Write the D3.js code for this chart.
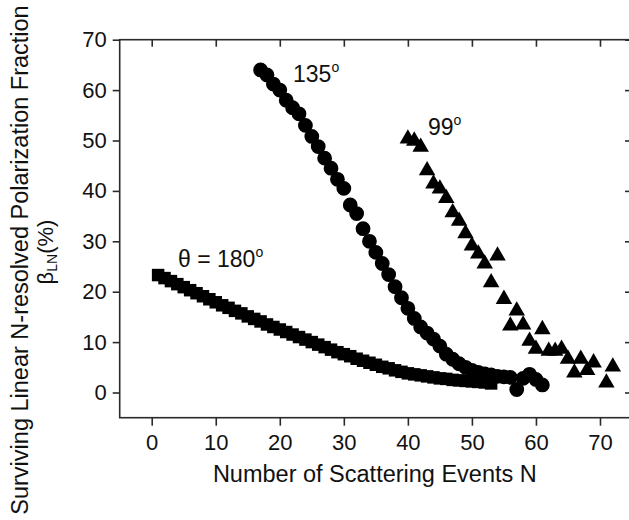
<!DOCTYPE html>
<html>
<head>
<meta charset="utf-8">
<script src="https://cdn.jsdelivr.net/npm/d3@7"></script>
<style>
  html, body { margin: 0; padding: 0; background: #fff; }
  svg { display: block; font-family: "Liberation Sans", Arial, Helvetica, sans-serif; }
</style>
</head>
<body>
<svg id="chart" width="629" height="520"></svg>
<script>
// ---- Data ----
const xTicks = [0, 10, 20, 30, 40, 50, 60, 70];
const yTicks = [0, 10, 20, 30, 40, 50, 60, 70];

// theta = 180 deg (squares)
const n180 = [1,2,3,4,5,6,7,8,9,10,11,12,13,14,15,16,17,18,19,20,21,22,23,24,25,26,27,28,29,30,31,32,33,34,35,36,37,38,39,40,41,42,43,44,45,46,47,48,49,50,51,52,53];
const b180 = [23.3,22.7,22.1,21.5,20.9,20.3,19.7,19.1,18.5,17.9,17.3,16.8,16.2,15.7,15.1,14.6,14.1,13.5,13.0,12.5,12.0,11.5,11.0,10.5,10.0,9.5,9.0,8.5,8.0,7.6,7.2,6.7,6.3,5.9,5.5,5.1,4.8,4.4,4.1,3.8,3.6,3.4,3.2,3.0,2.8,2.7,2.5,2.4,2.3,2.2,2.1,2.0,1.8];

// theta = 135 deg (circles)
const n135 = [17,18,19,20,21,22,23,24,25,26,27,28,29,30,31,32,33,34,35,36,37,38,39,40,41,42,43,44,45,46,47,48,49,50,51,52,53,54,55,56,57,58,59,60,61];
const b135 = [64.0,63.0,61.2,60.0,58.0,56.5,55.3,53.0,50.8,48.8,46.5,44.5,42.3,40.5,37.2,35.5,32.5,30.0,27.8,25.6,23.4,21.0,18.8,16.7,14.7,13.0,11.8,10.6,9.2,7.6,6.6,5.7,5.0,4.4,4.0,3.7,3.5,3.2,3.1,3.0,0.6,2.8,3.6,2.6,1.5];

// theta = 99 deg (triangles)
const n99 = [40,41,42,43,44,45,46,47,48,49,50,51,52,53,54,55,56,57,58,59,60,61,62,63,64,65,66,67,68,69,71,72];
const b99 = [50.8,50.4,49.2,44.5,41.9,40.9,39.0,36.2,34.5,32.0,29.6,28.0,26.0,22.3,27.6,19.0,13.7,16.7,13.9,10.7,9.1,13.0,8.7,8.7,9.1,7.1,4.4,7.1,4.9,6.4,2.4,5.6];

const xLabel = "Number of Scattering Events N";
const yLabel1 = "Surviving Linear N-resolved Polarization Fraction";

// ---- Layout ----
const svg = d3.select("#chart");
const mLeft = 119.7, mRight = 632, mTop = 39.7, mBottom = 417.7;
const x = d3.scaleLinear().domain([-5, 75]).range([mLeft, mRight]);
const y = d3.scaleLinear().domain([-5, 70]).range([mBottom, mTop]);

const axisColor = "#2a2a2a";
const textColor = "#111";

// Frame
svg.append("rect")
  .attr("x", mLeft).attr("y", mTop)
  .attr("width", mRight - mLeft).attr("height", mBottom - mTop)
  .attr("fill", "none").attr("stroke", axisColor).attr("stroke-width", 1.6);

function styleAxis(g) {
  g.select(".domain").remove();
  g.selectAll(".tick line").attr("stroke", axisColor).attr("stroke-width", 1.6);
  g.selectAll(".tick text").attr("fill", textColor).style("font-size", "22px")
    .style("font-family", "'Liberation Sans', Arial, sans-serif");
}

// Bottom axis
svg.append("g").attr("transform", `translate(0,${mBottom})`)
  .call(d3.axisBottom(x).tickValues(xTicks).tickSize(8).tickPadding(9).tickFormat(d3.format("d")))
  .call(styleAxis);
// Top axis (inward ticks)
svg.append("g").attr("transform", `translate(0,${mTop})`)
  .call(d3.axisTop(x).tickValues(xTicks).tickSize(-7).tickFormat(""))
  .call(styleAxis);
// Left axis
svg.append("g").attr("transform", `translate(${mLeft},0)`)
  .call(d3.axisLeft(y).tickValues(yTicks).tickSize(7).tickPadding(6).tickFormat(d3.format("d")))
  .call(styleAxis);
// Right axis (inward ticks)
svg.append("g").attr("transform", `translate(${mRight},0)`)
  .call(d3.axisRight(y).tickValues(yTicks).tickSize(-7).tickFormat(""))
  .call(styleAxis);

// ---- Markers ----
const tri = {
  draw(ctx, size) {
    const w = Math.sqrt(size), h = w * Math.sqrt(3) / 2;
    ctx.moveTo(0, -h / 2);
    ctx.lineTo(w / 2, h / 2);
    ctx.lineTo(-w / 2, h / 2);
    ctx.closePath();
  }
};

const series = [
  { n: n180, b: b180, sym: d3.symbol(d3.symbolSquare, 12.5 * 12.5) },
  { n: n135, b: b135, sym: d3.symbol(d3.symbolCircle, Math.PI * 7.4 * 7.4) },
  { n: n99,  b: b99,  sym: d3.symbol(tri, 16.5 * 16.5) }
];

series.forEach(s => {
  svg.append("g").selectAll("path")
    .data(s.n.map((n, i) => [n, s.b[i]]))
    .join("path")
    .attr("transform", d => `translate(${x(d[0])},${y(d[1])})`)
    .attr("d", s.sym)
    .attr("fill", "#000");
});

// ---- Annotations ----
function angleLabel(tx, ty, main, deg) {
  const t = svg.append("text").attr("x", tx).attr("y", ty)
    .attr("fill", textColor).style("font-size", "23px");
  t.append("tspan").text(main);
  t.append("tspan").text(deg).style("font-size", "14px").attr("dy", -10);
}
angleLabel(178, 267, "\u03B8 = 180", "o");
angleLabel(293, 82, "135", "o");
angleLabel(428, 135, "99", "o");

// ---- Axis titles ----
svg.append("text")
  .attr("x", (mLeft + mRight) / 2 - 1).attr("y", 482)
  .attr("text-anchor", "middle").attr("fill", textColor)
  .style("font-size", "23.5px").text(xLabel);

svg.append("text")
  .attr("transform", "translate(28,260) rotate(-90)")
  .attr("text-anchor", "middle").attr("fill", textColor)
  .style("font-size", "23.5px").text(yLabel1);

const yl2 = svg.append("text")
  .attr("transform", "translate(53,252) rotate(-90)")
  .attr("text-anchor", "middle").attr("fill", textColor)
  .style("font-size", "22px");
yl2.append("tspan").text("\u03B2");
yl2.append("tspan").text("LN").style("font-size", "14px").attr("dy", 4);
yl2.append("tspan").text("(%)").attr("dy", -4);
</script>
</body>
</html>
